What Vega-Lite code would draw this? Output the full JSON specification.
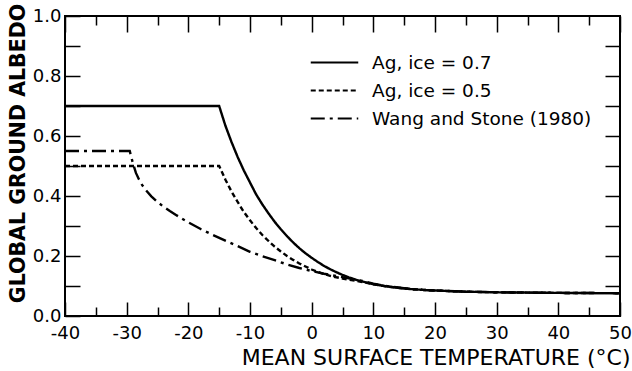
{
  "$schema": "https://vega.github.io/schema/vega-lite/v6.json",
  "width": 555,
  "height": 300,
  "autosize": "none",
  "padding": {"left": 65, "top": 16, "right": 12, "bottom": 55},
  "background": "white",
  "config": {
    "view": {"stroke": "black", "strokeWidth": 2},
    "font": "DejaVu Sans",
    "axis": {
      "domain": false,
      "grid": false,
      "tickColor": "black",
      "tickWidth": 1.5,
      "labelColor": "black",
      "titleColor": "black",
      "labelFont": "DejaVu Sans",
      "titleFont": "DejaVu Sans",
      "labelFontSize": 18,
      "labelFontWeight": "normal"
    }
  },
  "data": {
    "values": [
      {"s": "Ag, ice = 0.7", "t": -40, "a": 0.70},
      {"s": "Ag, ice = 0.7", "t": -15, "a": 0.70},
      {"s": "Ag, ice = 0.7", "t": -14, "a": 0.635},
      {"s": "Ag, ice = 0.7", "t": -13, "a": 0.58},
      {"s": "Ag, ice = 0.7", "t": -12, "a": 0.53},
      {"s": "Ag, ice = 0.7", "t": -11, "a": 0.485},
      {"s": "Ag, ice = 0.7", "t": -10, "a": 0.445},
      {"s": "Ag, ice = 0.7", "t": -9, "a": 0.405},
      {"s": "Ag, ice = 0.7", "t": -8, "a": 0.372},
      {"s": "Ag, ice = 0.7", "t": -7, "a": 0.342},
      {"s": "Ag, ice = 0.7", "t": -6, "a": 0.314},
      {"s": "Ag, ice = 0.7", "t": -5, "a": 0.289},
      {"s": "Ag, ice = 0.7", "t": -4, "a": 0.266},
      {"s": "Ag, ice = 0.7", "t": -3, "a": 0.245},
      {"s": "Ag, ice = 0.7", "t": -2, "a": 0.226},
      {"s": "Ag, ice = 0.7", "t": -1, "a": 0.209},
      {"s": "Ag, ice = 0.7", "t": 0, "a": 0.194},
      {"s": "Ag, ice = 0.7", "t": 1, "a": 0.180},
      {"s": "Ag, ice = 0.7", "t": 2, "a": 0.167},
      {"s": "Ag, ice = 0.7", "t": 3, "a": 0.156},
      {"s": "Ag, ice = 0.7", "t": 4, "a": 0.146},
      {"s": "Ag, ice = 0.7", "t": 5, "a": 0.137},
      {"s": "Ag, ice = 0.7", "t": 6, "a": 0.129},
      {"s": "Ag, ice = 0.7", "t": 7, "a": 0.122},
      {"s": "Ag, ice = 0.7", "t": 8, "a": 0.116},
      {"s": "Ag, ice = 0.7", "t": 10, "a": 0.106},
      {"s": "Ag, ice = 0.7", "t": 12, "a": 0.099},
      {"s": "Ag, ice = 0.7", "t": 14, "a": 0.094},
      {"s": "Ag, ice = 0.7", "t": 16, "a": 0.090},
      {"s": "Ag, ice = 0.7", "t": 18, "a": 0.087},
      {"s": "Ag, ice = 0.7", "t": 20, "a": 0.085},
      {"s": "Ag, ice = 0.7", "t": 25, "a": 0.081},
      {"s": "Ag, ice = 0.7", "t": 30, "a": 0.079},
      {"s": "Ag, ice = 0.7", "t": 40, "a": 0.077},
      {"s": "Ag, ice = 0.7", "t": 50, "a": 0.076},
      {"s": "Ag, ice = 0.5", "t": -40, "a": 0.50},
      {"s": "Ag, ice = 0.5", "t": -15, "a": 0.50},
      {"s": "Ag, ice = 0.5", "t": -14, "a": 0.455},
      {"s": "Ag, ice = 0.5", "t": -13, "a": 0.415},
      {"s": "Ag, ice = 0.5", "t": -12, "a": 0.38},
      {"s": "Ag, ice = 0.5", "t": -11, "a": 0.347},
      {"s": "Ag, ice = 0.5", "t": -10, "a": 0.319},
      {"s": "Ag, ice = 0.5", "t": -9, "a": 0.293},
      {"s": "Ag, ice = 0.5", "t": -8, "a": 0.270},
      {"s": "Ag, ice = 0.5", "t": -7, "a": 0.250},
      {"s": "Ag, ice = 0.5", "t": -6, "a": 0.231},
      {"s": "Ag, ice = 0.5", "t": -5, "a": 0.215},
      {"s": "Ag, ice = 0.5", "t": -4, "a": 0.200},
      {"s": "Ag, ice = 0.5", "t": -3, "a": 0.187},
      {"s": "Ag, ice = 0.5", "t": -2, "a": 0.175},
      {"s": "Ag, ice = 0.5", "t": -1, "a": 0.165},
      {"s": "Ag, ice = 0.5", "t": 0, "a": 0.155},
      {"s": "Ag, ice = 0.5", "t": 1, "a": 0.147},
      {"s": "Ag, ice = 0.5", "t": 2, "a": 0.140},
      {"s": "Ag, ice = 0.5", "t": 3, "a": 0.134},
      {"s": "Ag, ice = 0.5", "t": 4, "a": 0.129},
      {"s": "Ag, ice = 0.5", "t": 5, "a": 0.125},
      {"s": "Ag, ice = 0.5", "t": 6, "a": 0.121},
      {"s": "Ag, ice = 0.5", "t": 7, "a": 0.118},
      {"s": "Ag, ice = 0.5", "t": 8, "a": 0.114},
      {"s": "Ag, ice = 0.5", "t": 10, "a": 0.106},
      {"s": "Ag, ice = 0.5", "t": 12, "a": 0.099},
      {"s": "Ag, ice = 0.5", "t": 14, "a": 0.094},
      {"s": "Ag, ice = 0.5", "t": 16, "a": 0.090},
      {"s": "Ag, ice = 0.5", "t": 18, "a": 0.087},
      {"s": "Ag, ice = 0.5", "t": 20, "a": 0.085},
      {"s": "Ag, ice = 0.5", "t": 25, "a": 0.081},
      {"s": "Ag, ice = 0.5", "t": 30, "a": 0.079},
      {"s": "Ag, ice = 0.5", "t": 40, "a": 0.077},
      {"s": "Ag, ice = 0.5", "t": 50, "a": 0.076},
      {"s": "Wang and Stone (1980)", "t": -40, "a": 0.55},
      {"s": "Wang and Stone (1980)", "t": -29.5, "a": 0.55},
      {"s": "Wang and Stone (1980)", "t": -29, "a": 0.51},
      {"s": "Wang and Stone (1980)", "t": -28.5, "a": 0.477},
      {"s": "Wang and Stone (1980)", "t": -28, "a": 0.455},
      {"s": "Wang and Stone (1980)", "t": -27.5, "a": 0.437},
      {"s": "Wang and Stone (1980)", "t": -27, "a": 0.422},
      {"s": "Wang and Stone (1980)", "t": -26, "a": 0.399},
      {"s": "Wang and Stone (1980)", "t": -25, "a": 0.38},
      {"s": "Wang and Stone (1980)", "t": -24, "a": 0.364},
      {"s": "Wang and Stone (1980)", "t": -23, "a": 0.35},
      {"s": "Wang and Stone (1980)", "t": -22, "a": 0.337},
      {"s": "Wang and Stone (1980)", "t": -21, "a": 0.324},
      {"s": "Wang and Stone (1980)", "t": -20, "a": 0.312},
      {"s": "Wang and Stone (1980)", "t": -18, "a": 0.29},
      {"s": "Wang and Stone (1980)", "t": -16, "a": 0.27},
      {"s": "Wang and Stone (1980)", "t": -14, "a": 0.251},
      {"s": "Wang and Stone (1980)", "t": -12, "a": 0.233},
      {"s": "Wang and Stone (1980)", "t": -10, "a": 0.214},
      {"s": "Wang and Stone (1980)", "t": -8, "a": 0.199},
      {"s": "Wang and Stone (1980)", "t": -6, "a": 0.186},
      {"s": "Wang and Stone (1980)", "t": -4, "a": 0.172},
      {"s": "Wang and Stone (1980)", "t": -2, "a": 0.160},
      {"s": "Wang and Stone (1980)", "t": 0, "a": 0.150},
      {"s": "Wang and Stone (1980)", "t": 2, "a": 0.141},
      {"s": "Wang and Stone (1980)", "t": 4, "a": 0.133},
      {"s": "Wang and Stone (1980)", "t": 6, "a": 0.126},
      {"s": "Wang and Stone (1980)", "t": 8, "a": 0.118},
      {"s": "Wang and Stone (1980)", "t": 10, "a": 0.108},
      {"s": "Wang and Stone (1980)", "t": 12, "a": 0.100},
      {"s": "Wang and Stone (1980)", "t": 14, "a": 0.095},
      {"s": "Wang and Stone (1980)", "t": 16, "a": 0.090},
      {"s": "Wang and Stone (1980)", "t": 18, "a": 0.087},
      {"s": "Wang and Stone (1980)", "t": 20, "a": 0.085},
      {"s": "Wang and Stone (1980)", "t": 25, "a": 0.081},
      {"s": "Wang and Stone (1980)", "t": 30, "a": 0.079},
      {"s": "Wang and Stone (1980)", "t": 40, "a": 0.077},
      {"s": "Wang and Stone (1980)", "t": 50, "a": 0.076}
    ]
  },
  "resolve": {"axis": {"x": "independent", "y": "independent"}},
  "layer": [
    {
      "mark": {"type": "line", "color": "black", "strokeWidth": 2.4, "strokeCap": "butt"},
      "encoding": {
        "x": {
          "field": "t", "type": "quantitative",
          "scale": {"domain": [-40, 50], "nice": false, "zero": false},
          "axis": {
            "orient": "bottom",
            "values": [-40, -35, -30, -25, -20, -15, -10, -5, 0, 5, 10, 15, 20, 25, 30, 35, 40, 45, 50],
            "tickSize": {"condition": {"test": "datum.value % 10 === 0", "value": -14}, "value": -9},
            "labelExpr": "datum.value % 10 === 0 ? (datum.value < 0 ? '-' + abs(datum.value) : '' + datum.value) : ''",
            "labelPadding": 22,
            "labelFlush": false,
            "labelOverlap": false,
            "title": "MEAN SURFACE TEMPERATURE (°C)",
            "titleFontSize": 22,
            "titleFontWeight": "normal",
            "titleAnchor": "end",
            "titleAlign": "right",
            "titleX": 565,
            "titleY": 41,
            "titleBaseline": "middle"
          }
        },
        "y": {
          "field": "a", "type": "quantitative",
          "scale": {"domain": [0, 1], "nice": false},
          "axis": {
            "orient": "left",
            "values": [0, 0.1, 0.2, 0.3, 0.4, 0.5, 0.6, 0.7, 0.8, 0.9, 1.0],
            "tickSize": -15,
            "labelExpr": "round(datum.value * 10) % 2 === 0 ? format(datum.value, '.1f') : ''",
            "labelPadding": 19,
            "labelFlush": false,
            "labelOverlap": false,
            "title": "GLOBAL GROUND ALBEDO",
            "titleFontSize": 20.5,
            "titleFontWeight": "bold",
            "titlePadding": 4,
            "titleY": 137
          }
        },
        "strokeDash": {
          "field": "s", "type": "nominal",
          "scale": {
            "domain": ["Ag, ice = 0.7", "Ag, ice = 0.5", "Wang and Stone (1980)"],
            "range": [[1, 0], [5, 3], [14, 5, 3, 5]]
          },
          "legend": {
            "orient": "none",
            "legendX": 259,
            "legendY": 36,
            "title": null,
            "symbolType": "M-2.5,0H2.5",
            "symbolSize": 361,
            "symbolStrokeColor": "black",
            "symbolStrokeWidth": 2,
            "labelFontSize": 18.5,
            "labelFont": "DejaVu Sans",
            "labelColor": "black",
            "labelLimit": 400,
            "labelOffset": 27,
            "rowPadding": 8,
            "padding": 0
          }
        }
      }
    },
    {
      "mark": {"type": "line", "opacity": 0},
      "encoding": {
        "x": {
          "field": "t", "type": "quantitative",
          "axis": {
            "orient": "top",
            "values": [-40, -35, -30, -25, -20, -15, -10, -5, 0, 5, 10, 15, 20, 25, 30, 35, 40, 45, 50],
            "tickSize": {"condition": {"test": "datum.value % 10 === 0", "value": -16}, "value": -9},
            "labels": false,
            "title": null
          }
        },
        "y": {
          "field": "a", "type": "quantitative",
          "axis": {
            "orient": "right",
            "values": [0.1, 0.2, 0.3, 0.4, 0.5, 0.6, 0.7, 0.8, 0.9],
            "tickSize": -15,
            "labels": false,
            "title": null
          }
        },
        "detail": {"field": "s"}
      }
    }
  ]
}
